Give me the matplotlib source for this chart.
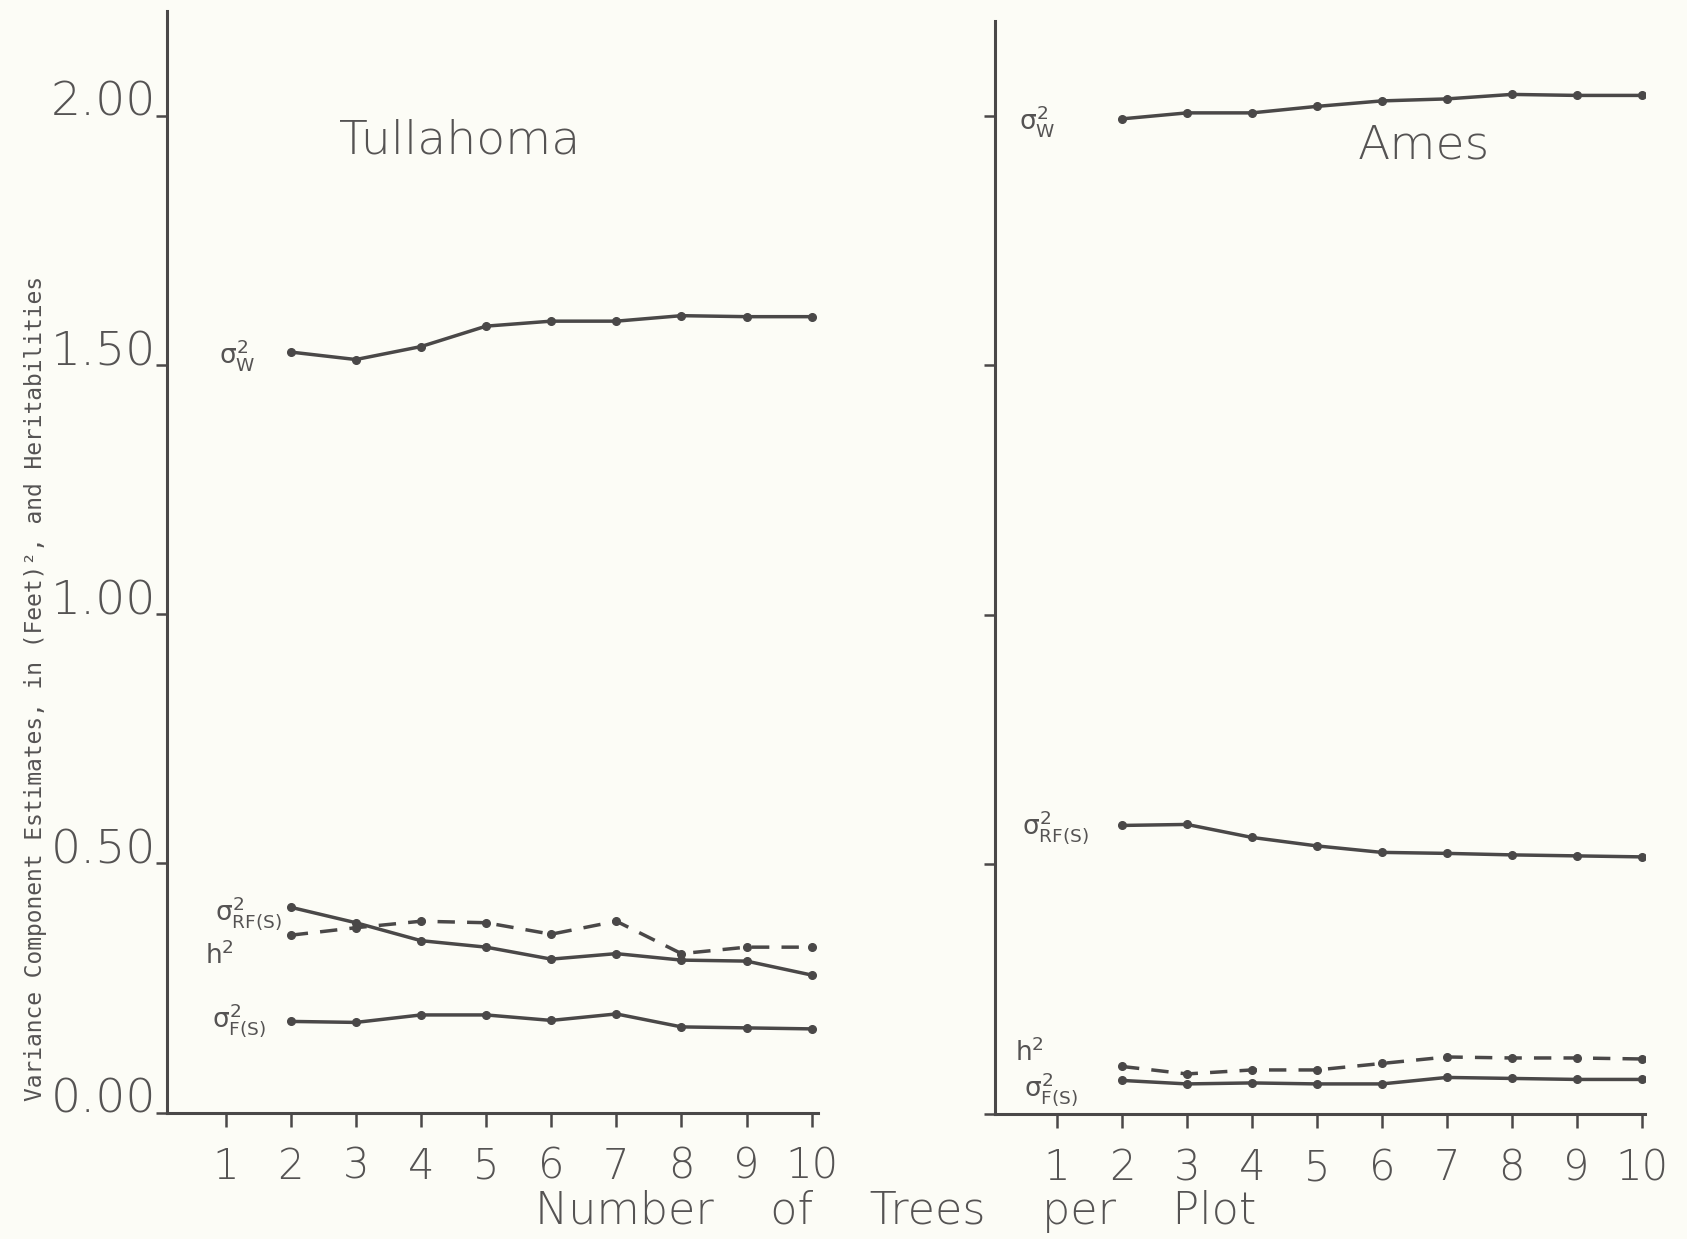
import matplotlib
matplotlib.use("Agg")
import matplotlib.pyplot as plt

# ---- data ----
trees = [2, 3, 4, 5, 6, 7, 8, 9, 10]
x_ticks = [1, 2, 3, 4, 5, 6, 7, 8, 9, 10]
y_ticks = [0.0, 0.5, 1.0, 1.5, 2.0]
y_tick_labels = ["0.00", "0.50", "1.00", "1.50", "2.00"]

tul_sw = [1.526, 1.511, 1.537, 1.578, 1.588, 1.588, 1.599, 1.597, 1.597]
tul_srf = [0.412, 0.381, 0.345, 0.332, 0.308, 0.319, 0.306, 0.304, 0.276]
tul_h2 = [0.356, 0.371, 0.384, 0.381, 0.358, 0.384, 0.319, 0.332, 0.332]
tul_sf = [0.183, 0.181, 0.196, 0.196, 0.185, 0.198, 0.172, 0.170, 0.168]

ames_sw = [1.994, 2.006, 2.006, 2.019, 2.030, 2.034, 2.043, 2.041, 2.041]
ames_srf = [0.578, 0.580, 0.554, 0.537, 0.524, 0.522, 0.519, 0.517, 0.515]
ames_h2 = [0.095, 0.080, 0.088, 0.088, 0.101, 0.114, 0.112, 0.112, 0.110]
ames_sf = [0.067, 0.060, 0.062, 0.060, 0.060, 0.073, 0.071, 0.069, 0.069]

lab_w = r"$\sigma^2_{\mathrm{W}}$"
lab_rf = r"$\sigma^2_{\mathrm{RF(S)}}$"
lab_h = r"$\mathrm{h}^2$"
lab_f = r"$\sigma^2_{\mathrm{F(S)}}$"

plt.rcParams['mathtext.fontset'] = 'custom'
plt.rcParams['mathtext.rm'] = 'DejaVu Sans'
plt.rcParams['mathtext.it'] = 'DejaVu Sans'
plt.rcParams['mathtext.bf'] = 'DejaVu Sans'
ink = '#4a4848'
txt = '#555353'
bg = '#fcfcf6'

fig = plt.figure(figsize=(16.87, 12.39), dpi=100, facecolor=bg)
axL = fig.add_axes([0.099, 0.102, 0.386, 0.889])
axR = fig.add_axes([0.590, 0.101, 0.385, 0.882])

def style(ax, xlim, ylim):
    ax.set_facecolor(bg)
    ax.set_xlim(*xlim)
    ax.set_ylim(*ylim)
    for s in ['top', 'right']:
        ax.spines[s].set_visible(False)
    for s in ['left', 'bottom']:
        ax.spines[s].set_color(ink)
        ax.spines[s].set_linewidth(2.2)
    ax.set_xticks(x_ticks)
    ax.set_xticklabels([str(v) for v in x_ticks], fontsize=30, color=txt,
                       family='DejaVu Sans', fontweight='light')
    ax.tick_params(axis='x', direction='out', length=10, width=1.8,
                   color=ink, pad=14)
    ax.tick_params(axis='y', direction='out', length=8, width=1.8,
                   color=ink)

def series(ax, y, dashed=False):
    ax.plot(trees, y, color=ink, lw=2.5, ls=(0, (5, 3.5)) if dashed else '-',
            marker='o', ms=5.5, mfc=ink, mec=ink)

style(axL, (0.1, 10.1), (0, 2.21))
style(axR, (0.05, 10.05), (0, 2.19))

axL.set_yticks(y_ticks)
axL.set_yticklabels(y_tick_labels, fontsize=34, color=txt, family='DejaVu Sans',
                    fontweight='light')
for t in axL.get_yticklabels():
    t.set_va('baseline')
axL.tick_params(axis='y', pad=0)

axR.set_yticks(y_ticks)
axR.set_yticklabels([])

# Tullahoma
series(axL, tul_sw)
series(axL, tul_srf)
series(axL, tul_h2, dashed=True)
series(axL, tul_sf)
lkw = dict(fontsize=19, color=txt, ha='center', va='center')
axL.text(1.18, 1.52, lab_w, **lkw)
axL.text(1.35, 0.40, lab_rf, **lkw)
axL.text(0.90, 0.315, lab_h, **lkw)
axL.text(1.20, 0.185, lab_f, **lkw)
axL.text(4.6, 1.95, "Tullahoma", fontsize=34, color=txt, ha='center',
         va='center', fontweight='light')

# Ames
series(axR, ames_sw)
series(axR, ames_srf)
series(axR, ames_h2, dashed=True)
series(axR, ames_sf)
axR.text(0.70, 1.99, lab_w, **lkw)
axR.text(0.98, 0.575, lab_rf, **lkw)
axR.text(0.57, 0.123, lab_h, **lkw)
axR.text(0.90, 0.050, lab_f, **lkw)
axR.text(6.65, 1.94, "Ames", fontsize=34, color=txt, ha='center',
         va='center', fontweight='light')

fig.text(0.021, 0.444,
         "Variance Component Estimates, in (Feet)\u00b2, and Heritabilities",
         rotation=90, family='DejaVu Sans Mono', fontsize=16.5, color=txt,
         ha='center', va='center')
fig.text(0.531, 0.022, "Number    of    Trees    per    Plot", fontsize=32,
         color=txt, ha='center', va='center', fontweight='light')

fig.savefig("out.png", dpi=100, facecolor=bg)
